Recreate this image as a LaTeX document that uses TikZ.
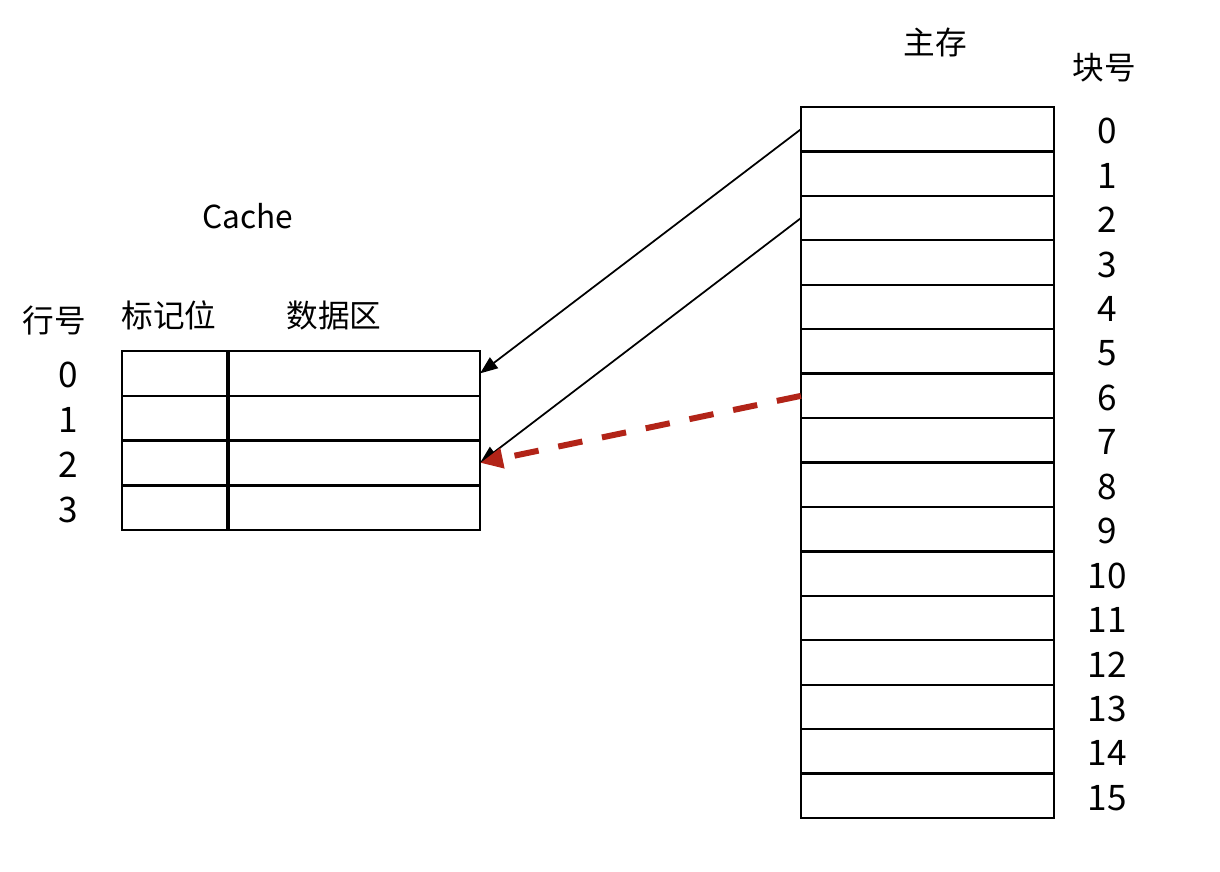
\documentclass[tikz,border=0pt]{standalone}
\usepackage{fontspec}
\setmainfont{Noto Sans CJK SC}
\usetikzlibrary{arrows.meta}
\definecolor{darkred}{HTML}{B22418}
\begin{document}
\begin{tikzpicture}[x=0.01cm,y=-0.01cm,
  mrow/.style={draw,line width=0.65pt,minimum width=2.53cm,minimum height=0.4444cm,inner sep=0pt,outer sep=0pt},
  tagcell/.style={draw,line width=0.7pt,minimum width=1.06cm,minimum height=0.4475cm,inner sep=0pt,outer sep=0pt},
  datacell/.style={draw,line width=0.7pt,minimum width=2.52cm,minimum height=0.4475cm,inner sep=0pt,outer sep=0pt},
  num/.style={font=\fontsize{10pt}{12pt}\selectfont,inner sep=0pt},
  lbl/.style={font=\fontsize{9pt}{11pt}\selectfont,inner sep=0pt},
  blk/.style={line width=0.5pt,-{Triangle[length=5pt,width=3.8pt]}},
  redarr/.style={draw=darkred,line width=1.7pt,dash pattern=on 7pt off 5.7pt,-{Triangle[length=6.5pt,width=5.5pt,fill=darkred]}}]
\useasboundingbox (0,0) rectangle (1220,872);
% main memory
\foreach \i in {0,...,15}{
  \node[mrow] (m\i) at (927.5,{107+44.44*(\i+0.5)}) {};
  \node[num] (mn\i) at (1107,{109+44.44*(\i+0.5)}) {\i};
}
\node[lbl] (zhucun) at (935,42) {主存};
\node[lbl] (kuaihao) at (1104,68) {块号};
% cache
\foreach \i in {0,...,3}{
  \node[tagcell] (t\i) at (175,{351+44.75*(\i+0.5)}) {};
  \node[datacell] (c\i) at (354,{351+44.75*(\i+0.5)}) {};
  \node[num] (cn\i) at (68,{353+44.75*(\i+0.5)}) {\i};
}
\draw[line width=1.1pt] (t0.north east) -- (t3.south east);
\node[lbl] (cache) at (248,216) {Cache};
\node[lbl] (hanghao) at (54,320) {行号};
\node[lbl] (biaoji) at (169,315) {标记位};
\node[lbl] (shuju) at (334,315) {数据区};
% arrows
\draw[blk] (m0.west) -- (c0.east);
\draw[blk] (m2.west) -- (c2.east);
\draw[redarr] (m6.west) -- (c2.east);
\end{tikzpicture}
\end{document}
